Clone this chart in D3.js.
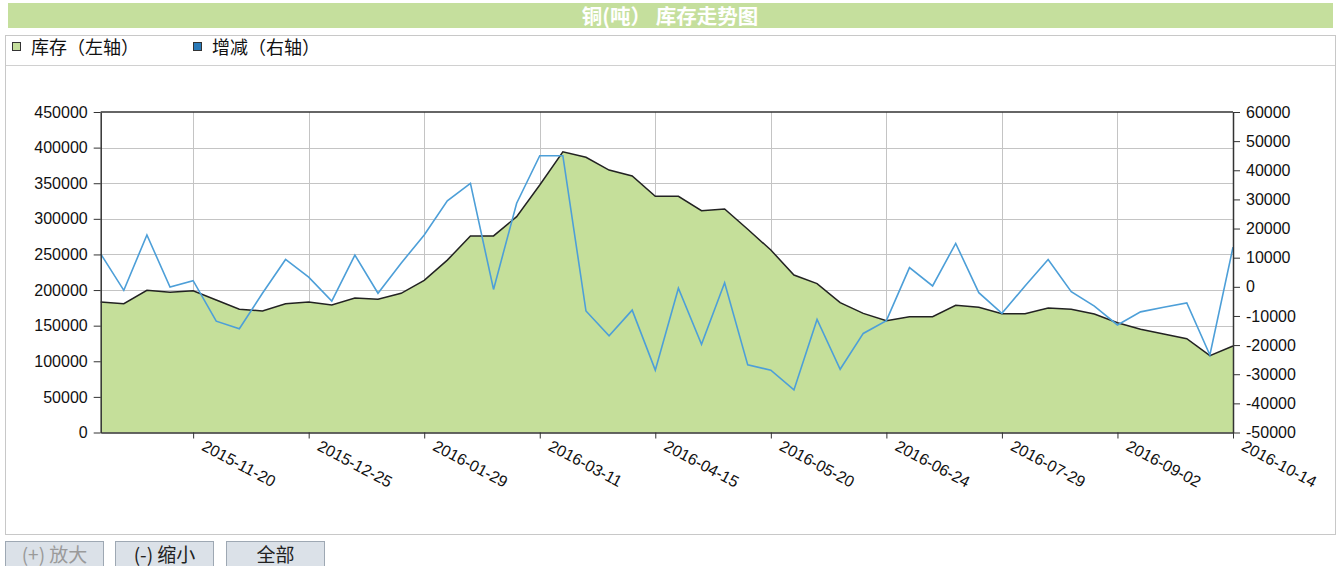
<!DOCTYPE html>
<html>
<head>
<meta charset="utf-8">
<script src="https://cdn.jsdelivr.net/npm/d3@7"></script>
<style>
  html, body { margin: 0; padding: 0; background: #fff; }
  svg { display: block; }
  text { font-family: "Liberation Sans", Arial, "Noto Sans CJK SC", sans-serif; }
</style>
</head>
<body>
<svg id="chart" width="1339" height="566"></svg>
<script>
const dates = ["2015-10-23","2015-10-30","2015-11-06","2015-11-13","2015-11-20","2015-11-27","2015-12-04","2015-12-11","2015-12-18","2015-12-25",
  "2016-01-01","2016-01-08","2016-01-15","2016-01-22","2016-01-29","2016-02-05","2016-02-19","2016-02-26","2016-03-04","2016-03-11",
  "2016-03-18","2016-03-25","2016-04-01","2016-04-08","2016-04-15","2016-04-22","2016-04-29","2016-05-06","2016-05-13","2016-05-20",
  "2016-05-27","2016-06-03","2016-06-10","2016-06-17","2016-06-24","2016-07-01","2016-07-08","2016-07-15","2016-07-22","2016-07-29",
  "2016-08-05","2016-08-12","2016-08-19","2016-08-26","2016-09-02","2016-09-09","2016-09-16","2016-09-23","2016-09-30","2016-10-14"];
const stock = [183200,180800,199600,196800,199100,186000,173000,170600,180800,183200,
  179000,188800,187000,195400,213700,242000,276000,276000,303000,347500,
  394200,386400,368500,360100,331600,331600,311400,313800,285300,256200,
  221100,209000,182300,167300,157000,162600,162600,178600,175800,166800,
  166800,174800,173000,166400,154200,144900,138300,131700,107800,121400];
const change = [11300,-1200,17800,-100,2100,-11800,-14400,-2200,9400,3300,
  -4900,10900,-2200,8100,17800,29500,35500,-900,28700,45000,
  45000,-8300,-16800,-8000,-28600,-500,-19700,1400,-26800,-28600,
  -35400,-11200,-28300,-16000,-11600,6600,300,14900,-2000,-9100,
  300,9400,-1700,-6600,-13100,-8600,-7000,-5500,-23400,13600];
const leftTicks = [0,50000,100000,150000,200000,250000,300000,350000,400000,450000];
const rightTicks = [-50000,-40000,-30000,-20000,-10000,0,10000,20000,30000,40000,50000,60000];
const xTickLabels = ["2015-11-20","2015-12-25","2016-01-29","2016-03-11","2016-04-15","2016-05-20","2016-06-24","2016-07-29","2016-09-02","2016-10-14"];
const title = "铜(吨） 库存走势图";
const legendNames = ["库存（左轴）", "增减（右轴）"];
const buttons = ["(+) 放大", "(-) 缩小", "全部"];

const svg = d3.select("#chart");
const L = 100.7, R = 1233, T = 112, B = 432.5;

// title bar
svg.append("rect").attr("x", 8).attr("y", 3).attr("width", 1325).attr("height", 25).attr("fill", "#c5df9d");
svg.append("text").attr("x", 670).attr("y", 23.5).attr("text-anchor", "middle")
  .attr("fill", "#fff").attr("font-weight", "bold").attr("font-size", 20.5)
  .style("font-family", "'Noto Sans CJK SC', sans-serif").text(title);

// frame box
svg.append("rect").attr("x", 5.5).attr("y", 35.5).attr("width", 1330).attr("height", 499)
  .attr("fill", "#fff").attr("stroke", "#c8c8c8");
svg.append("line").attr("x1", 6).attr("x2", 1335).attr("y1", 65.5).attr("y2", 65.5).attr("stroke", "#d0d0d0");

// legend
const legendColors = ["#c5df9d", "#2a7ab8"];
const legendX = [12, 193];
legendNames.forEach((n, i) => {
  svg.append("rect").attr("x", legendX[i] + 0.5).attr("y", 42.5).attr("width", 8).attr("height", 8)
    .attr("fill", legendColors[i]).attr("stroke", "#333");
  svg.append("text").attr("x", legendX[i] + 19).attr("y", 54).attr("font-size", 18)
    .attr("fill", "#111").style("font-family", "'Noto Sans CJK SC', sans-serif").text(n);
});

// scales
const x = d3.scalePoint().domain(dates).range([L, R]);
const yL = d3.scaleLinear().domain([0, 450000]).range([B, T]);
const yR = d3.scaleLinear().domain([-50000, 60000]).range([B, T]);

// grid
const g = svg.append("g");
g.selectAll(".hg").data(leftTicks.slice(1, -1)).join("line")
  .attr("x1", L).attr("x2", R).attr("y1", d => Math.round(yL(d)) + 0.5).attr("y2", d => Math.round(yL(d)) + 0.5)
  .attr("stroke", "#c4c4c4");
g.selectAll(".vg").data(xTickLabels).join("line")
  .attr("x1", d => Math.round(x(d)) + 0.5).attr("x2", d => Math.round(x(d)) + 0.5)
  .attr("y1", T).attr("y2", B).attr("stroke", "#c4c4c4");

// area + line
const area = d3.area().x((d, i) => x(dates[i])).y0(yL(0)).y1(d => yL(d));
svg.append("path").datum(stock).attr("d", area).attr("fill", "#c5df9a");
const sLine = d3.line().x((d, i) => x(dates[i])).y(d => yL(d));
svg.append("path").datum(stock).attr("d", sLine).attr("fill", "none").attr("stroke", "#222").attr("stroke-width", 1.5);
const cLine = d3.line().x((d, i) => x(dates[i])).y(d => yR(d));
svg.append("path").datum(change).attr("d", cLine).attr("fill", "none").attr("stroke", "#4d9fd8").attr("stroke-width", 1.6);

// top border
svg.append("line").attr("x1", L).attr("x2", R).attr("y1", T).attr("y2", T).attr("stroke", "#333").attr("stroke-width", 1.5);

// axes
const fmt = d => String(d);
const axL = svg.append("g").attr("transform", `translate(${L},0)`)
  .call(d3.axisLeft(yL).tickValues(leftTicks).tickFormat(fmt).tickSize(7).tickSizeOuter(0).tickPadding(6));
const axR = svg.append("g").attr("transform", `translate(${R},0)`)
  .call(d3.axisRight(yR).tickValues(rightTicks).tickFormat(fmt).tickSize(7).tickSizeOuter(0).tickPadding(6));
const axB = svg.append("g").attr("transform", `translate(0,${B})`)
  .call(d3.axisBottom(x).tickValues(xTickLabels).tickSize(6).tickSizeOuter(0));
[axL, axR, axB].forEach(a => {
  a.select(".domain").attr("stroke", "#333").attr("stroke-width", 1.5);
  a.selectAll(".tick line").attr("stroke", "#333");
  a.selectAll("text").attr("font-size", 16).attr("fill", "#111")
    .style("font-family", "'Liberation Sans', Arial, sans-serif");
});
axB.selectAll(".tick text")
  .attr("text-anchor", "start").attr("dy", null).attr("y", 0)
  .attr("transform", "translate(7,17) rotate(28)");

// buttons
const btnX = [5, 115, 226];
buttons.forEach((b, i) => {
  svg.append("rect").attr("x", btnX[i] + 0.5).attr("y", 541.5).attr("width", 98).attr("height", 30)
    .attr("fill", "#dbe1e8").attr("stroke", "#9ea8b3");
  svg.append("text").attr("x", btnX[i] + 49.5).attr("y", 562).attr("text-anchor", "middle")
    .attr("font-size", 19).attr("fill", i === 0 ? "#9a9a9a" : "#222")
    .style("font-family", "'Noto Sans CJK SC', sans-serif").text(b);
});
</script>
</body>
</html>
